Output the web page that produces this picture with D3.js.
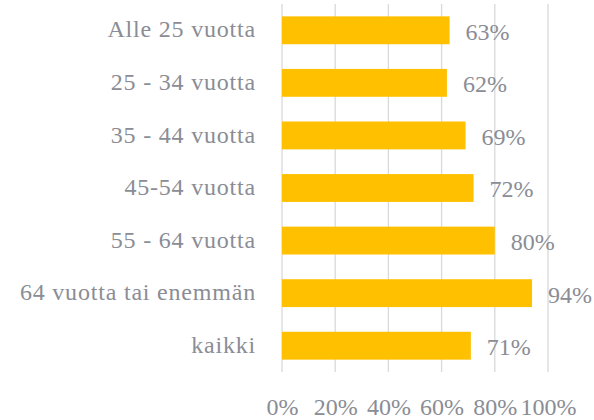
<!DOCTYPE html>
<html>
<head>
<meta charset="utf-8">
<script src="https://cdn.jsdelivr.net/npm/d3@7"></script>
<style>
  html, body { margin: 0; padding: 0; background: #fff; }
  svg { display: block; }
  text { font-family: "Liberation Serif", "DejaVu Serif", serif; fill: #8a8d95; }
</style>
</head>
<body>
<svg id="chart" width="594" height="420"></svg>
<script>
// Share by age group
const categories = ["Alle 25 vuotta", "25 - 34 vuotta", "35 - 44 vuotta", "45-54 vuotta", "55 - 64 vuotta", "64 vuotta tai enemmän", "kaikki"];
const values = [0.63, 0.62, 0.69, 0.72, 0.80, 0.94, 0.71];
const tickValues = [0, 0.2, 0.4, 0.6, 0.8, 1.0];

const svg = d3.select("#chart");
const margin = { top: 4, right: 46, bottom: 48, left: 282 };
const width = 594 - margin.left - margin.right;
const height = 420 - margin.top - margin.bottom;

const g = svg.append("g").attr("transform", `translate(${margin.left},${margin.top})`);

const x = d3.scaleLinear().domain([0, 1]).range([0, width]);
const y = d3.scaleBand().domain(categories).range([0, height]).paddingInner(0.47).paddingOuter(0.235);

const fmt = d3.format(".0%");
const fontSize = 24;

// vertical gridlines
g.append("g")
  .selectAll("line")
  .data(tickValues)
  .join("line")
  .attr("x1", d => x(d)).attr("x2", d => x(d))
  .attr("y1", 0).attr("y2", height)
  .attr("stroke", "#d9d9d9")
  .attr("stroke-width", 1.3);

// x axis labels
const xAxis = g.append("g")
  .attr("transform", `translate(0,${height})`)
  .call(d3.axisBottom(x).tickValues(tickValues).tickFormat(fmt).tickSize(0).tickPadding(26));
xAxis.select(".domain").remove();
xAxis.selectAll("text")
  .attr("font-size", fontSize)
  .attr("font-family", null)
  .style("fill", "#8a8d95");

// category labels
const yAxis = g.append("g")
  .call(d3.axisLeft(y).tickSize(0).tickPadding(26));
yAxis.select(".domain").remove();
yAxis.selectAll("text")
  .attr("font-size", fontSize)
  .attr("font-family", null)
  .attr("letter-spacing", 0.8)
  .attr("dy", "0.3em")
  .style("fill", "#8a8d95");

// bars
g.append("g")
  .selectAll("rect")
  .data(values)
  .join("rect")
  .attr("x", x(0))
  .attr("y", (d, i) => y(categories[i]))
  .attr("width", d => x(d) - x(0))
  .attr("height", y.bandwidth())
  .attr("fill", "#ffc000");

// value labels
g.append("g")
  .selectAll("text")
  .data(values)
  .join("text")
  .attr("x", d => x(d) + 16)
  .attr("y", (d, i) => y(categories[i]) + y.bandwidth() / 2 + 1)
  .attr("dy", "0.35em")
  .attr("font-size", fontSize)
  .text(d => fmt(d));
</script>
</body>
</html>
